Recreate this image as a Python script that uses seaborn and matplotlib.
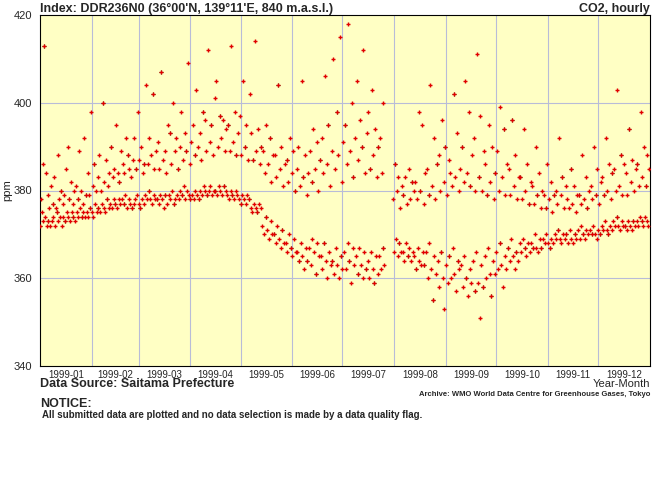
import numpy as np
import pandas as pd
import seaborn as sns
import matplotlib.pyplot as plt

# CO2 readings: one row per week, 14 readings (two per day)
weekly = [
    "372 378 375 386 373 413 374 384 372 379 373 376 372 381",
    "373 377 374 383 372 376 375 388 373 378 374 380 372 377",
    "374 379 373 385 375 390 374 378 373 382 375 377 374 380",
    "373 381 375 378 374 389 376 380 374 377 375 392 374 379",
    "375 384 374 379 376 398 375 381 374 386 377 380 375 383",
    "376 388 375 380 377 400 376 382 375 387 378 381 376 384",
    "377 390 376 383 378 385 377 395 376 384 378 382 377 389",
    "378 386 377 384 379 392 376 388 378 385 377 383 376 387",
    "377 392 378 385 379 398 377 387 376 390 378 384 377 386",
    "379 404 378 386 380 392 378 388 377 402 379 385 378 389",
    "378 391 377 385 379 407 378 387 376 389 379 384 377 395",
    "379 393 378 386 380 400 377 389 378 392 379 385 378 390",
    "380 398 379 387 381 393 378 389 380 409 379 386 378 391",
    "379 395 378 388 380 403 379 390 378 393 380 387 379 398",
    "381 396 380 389 379 412 380 391 381 395 379 388 380 401",
    "380 405 379 390 381 397 380 392 379 396 381 389 380 394",
    "379 395 378 389 380 413 379 391 378 398 380 388 379 393",
    "378 397 377 388 379 405 378 390 377 395 379 387 378 402",
    "376 393 375 387 377 414 376 389 375 394 377 386 376 390",
    "372 389 370 384 374 395 371 386 369 392 373 382 370 388",
    "370 388 368 383 372 404 369 385 367 390 371 381 368 386",
    "368 387 366 382 370 392 367 384 365 389 369 380 366 385",
    "366 390 364 381 368 405 365 383 362 388 367 379 364 384",
    "367 389 363 382 369 394 366 385 361 391 368 380 365 387",
    "365 392 362 384 368 406 364 386 360 395 366 381 363 389",
    "364 410 361 385 367 398 363 388 360 415 365 382 362 391",
    "366 395 362 386 368 418 364 389 359 400 367 383 363 392",
    "365 405 361 387 367 396 363 390 360 412 366 384 362 393",
    "364 398 360 385 366 403 362 388 359 394 365 383 361 390",
    "365 392 362 384 367 400 363 nan nan nan nan nan nan nan",
    "nan nan nan 378 366 386 369 380 365 383 368 376 366 381",
    "366 379 364 383 368 377 365 385 367 378 364 382 366 380",
    "365 382 362 378 367 398 364 380 363 395 366 377 363 384",
    "366 385 360 379 368 404 362 381 355 392 365 378 361 386",
    "364 388 358 380 366 396 360 382 353 390 363 379 359 387",
    "365 384 360 381 367 402 361 383 357 393 364 380 362 385",
    "363 390 358 382 365 405 360 384 356 398 362 381 359 388",
    "364 392 357 380 366 411 359 383 351 397 363 380 358 389",
    "365 386 360 379 367 395 361 382 356 390 364 378 361 384",
    "366 389 362 380 368 399 363 383 358 394 365 379 362 386",
    "367 385 364 379 369 396 365 381 362 388 366 378 364 383",
    "368 383 366 378 369 394 367 380 365 386 368 377 366 382",
    "368 381 367 377 370 390 367 379 366 384 369 376 367 380",
    "369 379 368 376 370 386 368 378 367 382 369 375 368 379",
    "370 380 369 377 371 392 369 379 368 383 370 376 369 381",
    "370 378 368 376 371 385 369 377 368 381 370 375 369 379",
    "371 379 369 377 372 388 370 378 369 383 371 376 370 380",
    "371 381 370 378 372 390 370 379 369 385 371 377 370 382",
    "372 383 371 379 373 392 371 380 370 386 372 378 371 384",
    "373 385 372 380 374 403 372 381 371 388 373 379 372 386",
    "372 384 371 379 373 394 372 382 371 387 373 380 372 385",
    "373 386 372 381 374 398 373 383 372 390 374 381 373 388",
    "372 385 371 380 373 393 372 382 371 389 373 380 372 387",
]
month_labels = ["1999-01", "1999-02", "1999-03", "1999-04", "1999-05", "1999-06",
                "1999-07", "1999-08", "1999-09", "1999-10", "1999-11", "1999-12"]

vals = np.array([float(v) for row in weekly for v in row.split()])
times = pd.Timestamp("1999-01-01") + pd.to_timedelta(np.arange(len(vals)) * 12, unit="h")
df = pd.DataFrame({"time": times, "co2": vals}).dropna()
df = df[df["time"] < "2000-01-01"]

sns.set_style("white")
plt.rcParams["font.family"] = ["Liberation Sans", "DejaVu Sans"]
fig = plt.figure(figsize=(6.6, 5.0), dpi=100)
ax = fig.add_axes([40 / 660, 134 / 500, 610 / 660, 351 / 500])
ax.set_facecolor("#ffffc4")

sns.scatterplot(data=df, x="time", y="co2", marker="+", color="#e00000",
                s=12, linewidth=1.0, ax=ax, zorder=3)
sns.scatterplot(data=df.iloc[::5], x="time", y="co2", marker="+", color="#203000",
                s=8, linewidth=0.8, ax=ax, zorder=2)

starts = pd.date_range("1999-01-01", periods=13, freq="MS")
for s in starts[1:-1]:
    ax.axvline(s, color="#b8bcd8", lw=0.8, zorder=1)
for yv in (360, 380, 400):
    ax.axhline(yv, color="#b8bcd8", lw=0.8, zorder=1)
ax.set_xlim(starts[0], starts[-1])
ax.set_ylim(340, 420)
ax.set_yticks([340, 360, 380, 400, 420])
mids = [s + (starts[i + 1] - s) / 2 for i, s in enumerate(starts[:-1])]
ax.set_xticks(starts[1:-1])
ax.set_xticklabels([])
ax.tick_params(axis="x", length=4, direction="in")
for m, lab in zip(mids, month_labels):
    ax.text(m, -0.012, lab, transform=ax.get_xaxis_transform(), ha="center", va="top", fontsize=7)
ax.tick_params(axis="y", labelsize=8, pad=2)
ax.set_xlabel("")
ax.set_ylabel("ppm", fontsize=8, labelpad=1)
for sp in ax.spines.values():
    sp.set_color("black")
    sp.set_linewidth(0.8)

fig.text(40 / 660, 1 - 9 / 500, "Index: DDR236N0 (36°00'N, 139°11'E, 840 m.a.s.l.)", fontsize=9, weight="bold", va="center")
fig.text(650 / 660, 1 - 9 / 500, "CO2, hourly", fontsize=9, weight="bold", va="center", ha="right")
fig.text(40 / 660, 1 - 384 / 500, "Data Source: Saitama Prefecture", fontsize=9, weight="bold", va="center")
fig.text(650 / 660, 1 - 384 / 500, "Year-Month", fontsize=8, va="center", ha="right")
fig.text(650 / 660, 1 - 395 / 500, "Archive: WMO World Data Centre for Greenhouse Gases, Tokyo", fontsize=5.5, weight="bold", va="center", ha="right")
fig.text(40 / 660, 1 - 404 / 500, "NOTICE:", fontsize=9, weight="bold", va="center")
fig.text(42 / 660, 1 - 415 / 500, "All submitted data are plotted and no data selection is made by a data quality flag.", fontsize=7, weight="bold", va="center")

fig.savefig("out.png", dpi=100)
